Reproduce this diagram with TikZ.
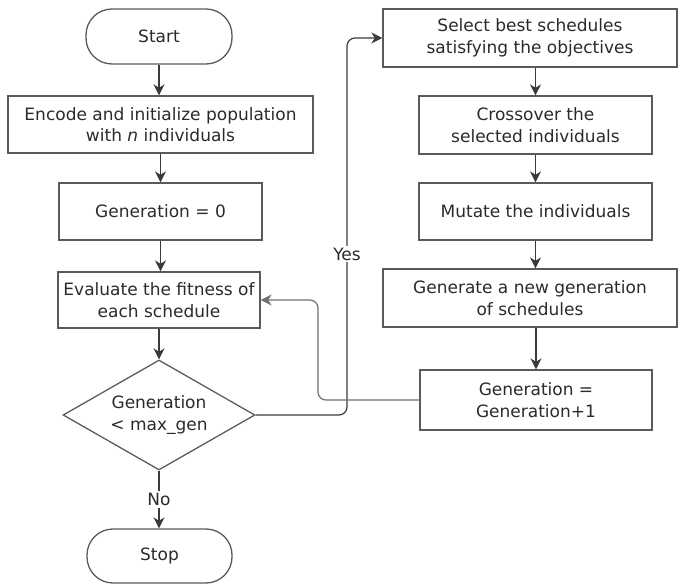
\documentclass[tikz,border=0pt]{standalone}
\usepackage{fontspec}
\setmainfont{DejaVu Sans}
\usetikzlibrary{shapes.geometric,arrows.meta,calc}
\definecolor{boxc}{HTML}{5A5A5A}
\definecolor{txtc}{HTML}{2A2A2A}
\definecolor{arrc}{HTML}{3A3A3A}
\definecolor{fbc}{HTML}{707070}
\begin{document}
\begin{tikzpicture}[x=1pt,y=-1pt,
  every node/.style={font=\fontsize{17}{21.5}\selectfont, text=txtc, align=center},
  procbox/.style={draw=boxc, line width=1.3pt, rectangle, inner sep=0pt},
  termbox/.style={draw=boxc, line width=1.3pt, rectangle, rounded corners=26pt, inner sep=0pt},
  decbox/.style={draw=boxc, line width=1.3pt, diamond, shape aspect=1.745, inner sep=0pt, minimum width=192pt, minimum height=110pt},
  arr/.style={draw=arrc, line width=1.2pt, -{Stealth[length=11pt,width=11pt,inset=3.5pt]}},
  lbl/.style={fill=white, inner sep=2pt}]
\useasboundingbox (0,0) rectangle (678,585);
% left column
\node[termbox, minimum width=146pt, minimum height=55pt] (start) at (159,36.5) {Start};
\node[procbox, minimum width=305pt, minimum height=57pt] (enc) at (160.5,124.5) {Encode and initialize population\\with \textit{n} individuals};
\node[procbox, minimum width=203pt, minimum height=57pt] (g0) at (160.5,211.5) {Generation = 0};
\node[procbox, minimum width=202pt, minimum height=56pt] (eval) at (159,300) {Evaluate the fitness of\\each schedule};
\node[decbox] (dia) at (159,415) {Generation\\< max\_gen};
\node[termbox, minimum width=145pt, minimum height=54pt] (stop) at (159.5,556) {Stop};
% right column
\node[procbox, minimum width=294pt, minimum height=58pt] (sel) at (530,38) {Select best schedules\\satisfying the objectives};
\node[procbox, minimum width=233pt, minimum height=58pt] (cross) at (535.5,125) {Crossover the\\selected individuals};
\node[procbox, minimum width=233pt, minimum height=57pt] (mut) at (535.5,211.5) {Mutate the individuals};
\node[procbox, minimum width=294pt, minimum height=58pt] (gen) at (530,298) {Generate a new generation\\of schedules};
\node[procbox, minimum width=232pt, minimum height=60pt] (g1) at (536,400) {Generation =\\Generation+1};
% left arrows
\draw[arr] (start.south) -- (start.south |- enc.north);
\draw[arr] (enc.south) -- (enc.south |- g0.north);
\draw[arr] (g0.south) -- (g0.south |- eval.north);
\draw[arr] (eval.south) -- (eval.south |- dia.north);
\draw[arr] (dia.south) -- node[lbl, pos=0.5] {No} (dia.south |- stop.north);
% right arrows
\draw[arr] (cross.north |- sel.south) -- (cross.north);
\draw[arr] (cross.south) -- (mut.north);
\draw[arr] (mut.south) -- (mut.south |- gen.north);
\draw[arr] (g1.north |- gen.south) -- (g1.north);
% yes loop
\coordinate (yx) at (347,0);
\draw[arr, rounded corners=8pt] (dia.east) -| (yx |- sel.west) -- (sel.west);
\node[lbl] (yes) at (347,254) {Yes};
% feedback loop
\coordinate (fb) at (318,300);
\draw[arr, draw=fbc, rounded corners=8pt] (g1.west) -| (fb) -- (eval.east);
\end{tikzpicture}
\end{document}
